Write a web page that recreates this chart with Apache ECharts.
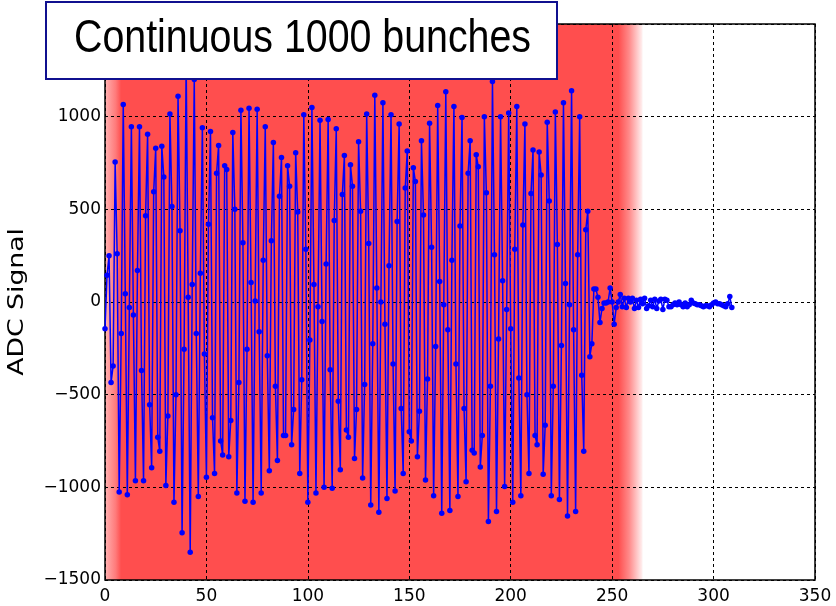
<!DOCTYPE html>
<html>
<head>
<meta charset="utf-8">
<script src="https://cdn.jsdelivr.net/npm/echarts@6/dist/echarts.min.js"></script>
<style>
  html, body { margin: 0; padding: 0; background: #fff; }
  #chart { width: 836px; height: 606px; }
</style>
</head>
<body>
<div id="chart"></div>
<script>
  // ADC 读数，一个采样一个点 (x = 0..309)
  var adcSignal = [
    -145, 145, 250, -435, -345, 755, 260, -1025, -170, 1065,
    45, -1040, -30, 945, -70, -965, 170, 945, -370, -965,
    465, 905, -555, -895, 595, 830, -730, -805, 840, 675,
    -990, -615, 1015, 515, -1080, -500, 1110, 385, -1245, -255,
    1300, 25, -1350, 95, 1200, -170, -1050, 155, 940, -280,
    -945, 420, 920, -625, -925, 695, 845, -750, -825, 735,
    715, -835, -640, 915, 500, -1030, -435, 1035, 320, -1075,
    -255, 1045, 105, -1080, 5, 1040, -160, -1030, 225, 945,
    -290, -910, 330, 860, -455, -855, 570, 780, -720, -720,
    735, 625, -770, -580, 805, 485, -925, -420, 1010, 285,
    -1080, -205, 1050, 95, -1030, -25, 980, -105, -1000, 205,
    985, -365, -1005, 440, 935, -535, -905, 580, 790, -690,
    -730, 740, 625, -845, -580, 865, 490, -950, -445, 1015,
    315, -1095, -225, 1115, 75, -1135, 0, 1075, -120, -1060,
    195, 1010, -335, -1020, 435, 960, -575, -925, 615, 815,
    -700, -750, 725, 650, -835, -590, 870, 470, -960, -415,
    965, 295, -1045, -240, 1060, 110, -1140, -15, 1135, -150,
    -1125, 225, 1055, -335, -1050, 410, 995, -575, -970, 695,
    870, -800, -815, 795, 730, -890, -720, 1000, 590, -1185,
    -455, 1190, 255, -1130, -200, 1000, 115, -995, -40, 1020,
    -145, -1080, 285, 1055, -410, -1045, 415, 960, -500, -925,
    585, 820, -720, -770, 810, 685, -930, -665, 970, 545,
    -1045, -455, 1025, 310, -1065, -235, 1075, 100, -1155, -15,
    1140, -150, -1130, 255, 1000, -395, -805, 390, 490, -295,
    -225, 70, 70, 25, -110, -35, -5, -5, 0, 75,
    0, -120, -30, 0, 40, -25, 20, -30, 20, 0,
    20, -35, 10, -30, 15, -10, 20, -35, -20, 10,
    -25, 15, -35, 5, 15, -40, 15, 10, -25, -25,
    -15, -5, -15, 0, -15, -25, -5, -25, -15, 10,
    -5, -10, -15, -15, -20, -25, -20, -20, -25, -15,
    -5, 0, -10, -10, -15, -20, -25, -10, 30, -30
  ];
  // 束团填充区间 (红色背景)
  var bunchSpan = [0, 265];
  var xRange = [0, 350];
  var yRange = [-1500, 1500];
  var titleText = 'Continuous 1000 bunches';
  var yName = 'ADC Signal';

  var seriesData = adcSignal.map(function (v, i) { return [i, v]; });

  var myChart = echarts.init(document.getElementById('chart'));
  var tickFont = { fontFamily: 'DejaVu Sans', fontSize: 17, color: '#000' };

  var options = {
    animation: false,
    grid: {
      left: 105, right: 21, top: 24, bottom: 26,
      show: true, borderColor: '#000', borderWidth: 1.5,
      backgroundColor: 'transparent', z: 2
    },
    xAxis: {
      type: 'value', min: xRange[0], max: xRange[1], interval: 50, z: 2,
      axisLine: { show: false },
      axisTick: { show: false },
      axisLabel: Object.assign({ margin: 8 }, tickFont),
      splitLine: { show: true, lineStyle: { color: '#000', width: 1, type: [3, 3] } }
    },
    yAxis: {
      type: 'value', min: yRange[0], max: yRange[1], interval: 500, z: 2,
      axisLine: { show: false },
      axisTick: { show: false },
      axisLabel: Object.assign({
        margin: 4,
        formatter: function (v) { return v < 0 ? '\u2212' + Math.abs(v) : String(v); }
      }, tickFont),
      splitLine: { show: true, lineStyle: { color: '#000', width: 1, type: [3, 3] } }
    },
    graphic: [
      {
        type: 'text', left: 7, top: 228, z: 50,
        rotation: Math.PI / 2,
        style: { text: yName, font: '21px "DejaVu Sans"', fill: '#000' },
        // rotate 后用 scaleX 拉长文字方向
        scaleX: 1.27
      },
      {
        type: 'rect', z: 100,
        shape: { x: 46, y: 2, width: 511, height: 77 },
        style: { fill: '#fff', stroke: '#10108f', lineWidth: 2 }
      },
      {
        type: 'text', z: 101,
        x: 74, y: 16, scaleX: 0.855,
        style: { text: titleText, font: '46px "Liberation Sans"', fill: '#000' }
      }
    ],
    series: [
      {
        type: 'line',
        data: seriesData,
        z: 3,
        symbol: 'circle',
        symbolSize: 5.5,
        showSymbol: true,
        itemStyle: { color: '#0000ff' },
        lineStyle: { color: '#0000ff', width: 1.5 },
        markArea: {
          silent: true,
          z: 1,
          itemStyle: {
            color: new echarts.graphic.LinearGradient(0, 0, 1, 0, [
              { offset: 0, color: '#ffb8b8' },
              { offset: 0.006, color: '#ffa0a0' },
              { offset: 0.02, color: '#ff7a7a' },
              { offset: 0.03, color: '#ff4e4e' },
              { offset: 0.955, color: '#ff4e4e' },
              { offset: 0.975, color: '#ff8a8a' },
              { offset: 1, color: '#fff2f2' }
            ])
          },
          data: [[{ xAxis: bunchSpan[0] }, { xAxis: bunchSpan[1] }]]
        }
      }
    ]
  };
  myChart.setOption(options);
</script>
</body>
</html>
